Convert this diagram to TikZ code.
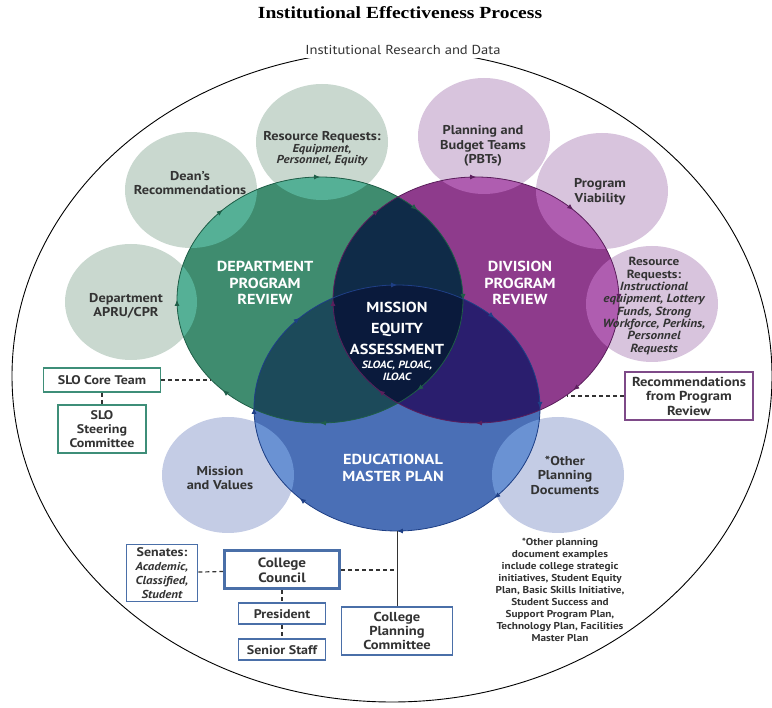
\documentclass[tikz,border=0pt]{standalone}
\usepackage{fontspec}
\setmainfont{PT Sans}[FakeStretch=1.12]
\newfontfamily\titlefont{Liberation Serif}[FakeStretch=1.15]
\usetikzlibrary{arrows.meta,positioning,decorations.markings}
\definecolor{dprgreen}{HTML}{3F8C6F}
\definecolor{dprlight}{HTML}{55B096}
\definecolor{dprline}{HTML}{1F5E48}
\definecolor{dvpurple}{HTML}{8E3B8C}
\definecolor{dvlight}{HTML}{AF5DB0}
\definecolor{dvline}{HTML}{5B1F5C}
\definecolor{empblue}{HTML}{4A6FB6}
\definecolor{emplight}{HTML}{6A92D3}
\definecolor{empline}{HTML}{1E3F85}
\definecolor{gpnavy}{HTML}{0F2B48}
\definecolor{gbteal}{HTML}{1C4A5A}
\definecolor{pbindigo}{HTML}{2A1E6E}
\definecolor{coredark}{HTML}{0A1A3C}
\definecolor{bubgreen}{HTML}{C9D8CF}
\definecolor{bubpurple}{HTML}{D8C4DD}
\definecolor{bubblue}{HTML}{C4CCE5}
\definecolor{boxgreen}{HTML}{3E8E78}
\definecolor{boxpurple}{HTML}{7E4A88}
\definecolor{boxblue}{HTML}{4A6FA8}
\definecolor{inkgrey}{HTML}{333333}
\newcommand{\dprshape}{(320,300) ellipse [x radius=143, y radius=123]}
\newcommand{\dvpshape}{(476,300) ellipse [x radius=143, y radius=123]}
\newcommand{\empshape}{(397,408) ellipse [x radius=143, y radius=123]}

\tikzset{
  bubtext/.style={align=center,text=inkgrey,font=\bfseries\fontsize{12.8}{14.5}\selectfont},
  bigtext/.style={align=center,text=white,font=\bfseries\fontsize{14.5}{16.5}\selectfont},
  flow/.style={postaction={decorate,decoration={markings,
      mark=between positions 0 and 0.99 step 0.125 with {\arrow[#1]{Latex[length=6pt,width=5pt]}}}}},
  orgbox/.style={draw=#1,line width=1.8pt,fill=white,align=center,inner sep=2pt,
      text=inkgrey,font=\bfseries\fontsize{12.5}{14}\selectfont},
  link/.style={inkgrey,line width=1.2pt,dash pattern=on 4pt off 3pt}
}

\begin{document}
\begin{tikzpicture}[x=1pt,y=-1pt]
\useasboundingbox (0,0) rectangle (772,708);
\node[font=\titlefont\bfseries\fontsize{17}{20}\selectfont] (title) at (400,13) {Institutional Effectiveness Process};
%outer loop
\draw[line width=.9pt] (392,376) ellipse [x radius=380, y radius=326];
\node[fill=white,inner xsep=12pt,inner ysep=3pt,text=inkgrey,font=\fontsize{13}{15}\selectfont] (irdata) at (403,50) {Institutional Research and Data};
%satellite bubbles
\foreach \bx/\by/\bc in {191/190/bubgreen,322/142/bubgreen,131/302/bubgreen,484/136/bubpurple,
    602/191/bubpurple,652/304/bubpurple,228/475/bubblue,558/475/bubblue}
  \fill[\bc] (\bx,\by) ellipse [x radius=66, y radius=58];
%the three big circles
\fill[dprgreen] \dprshape;
\fill[dvpurple] \dvpshape;
\fill[empblue] \empshape;
\begin{scope}
\clip \dprshape;
\fill[gpnavy] \dvpshape;
\fill[gbteal] \empshape;
\end{scope}
\begin{scope}
\clip \dvpshape;
\fill[pbindigo] \empshape;
\end{scope}
\begin{scope}
\clip \dprshape;
\clip \dvpshape;
\fill[coredark] \empshape;
\end{scope}
%bubble over circle
\foreach \bx/\by in {191/190,322/142,131/302,484/136,602/191,652/304,228/475,558/475}{
  \begin{scope}
  \clip (\bx,\by) ellipse [x radius=66, y radius=58];
  \fill[dprlight] \dprshape;
  \fill[dvlight] \dvpshape;
  \fill[emplight] \empshape;
  \end{scope}
}
\draw[dprline,line width=.8pt,flow=dprline] \dprshape;
\draw[dvline,line width=.8pt,flow=dvline] \dvpshape;
\draw[empline,line width=.8pt,flow=empline] \empshape;
%circle labels
\node[bigtext] (dprtext) at (265,283) {DEPARTMENT\\PROGRAM\\REVIEW};
\node[bigtext] (dvptext) at (520,283) {DIVISION\\PROGRAM\\REVIEW};
\node[bigtext] (emptext) at (393,468) {EDUCATIONAL\\MASTER PLAN};
\node[align=center,text=white,font=\bfseries\fontsize{14.5}{21}\selectfont] (coretext) at (397,341)
  {MISSION\\EQUITY\\ASSESSMENT\\[-7pt]{\itshape\fontsize{10.5}{12}\selectfont SLOAC, PLOAC,}\\[-9pt]{\itshape\fontsize{10.5}{12}\selectfont ILOAC}};
%bubble labels
\node[bubtext] (deans) at (190,183) {Dean's\\Recommendations};
\node[bubtext] (resreqA) at (322,149) {Resource Requests:\\[-3pt]{\itshape\fontsize{11.5}{12}\selectfont Equipment,}\\[-3pt]{\itshape\fontsize{11.5}{12}\selectfont Personnel, Equity}};
\node[bubtext] (pbt) at (483,146) {Planning and\\Budget Teams\\(PBTs)};
\node[bubtext] (viability) at (600,192) {Program\\Viability};
\node[bubtext,font=\bfseries\fontsize{11.8}{12.3}\selectfont] (resreqB) at (654,306) {Resource\\Requests:\\\itshape Instructional\\\itshape equipment, Lottery\\\itshape Funds, Strong\\\itshape Workforce, Perkins,\\\itshape Personnel\\\itshape Requests};
\node[bubtext] (apru) at (126,306) {Department\\APRU/CPR};
\node[bubtext] (mission) at (220,478) {Mission\\and Values};
\node[bubtext] (otherdocs) at (565,475) {*Other\\Planning\\Documents};
\node[align=center,text=inkgrey,font=\bfseries\fontsize{10}{11.9}\selectfont] (fnote) at (560,590)
  {*Other planning\\document examples\\include college strategic\\initiatives, Student Equity\\Plan, Basic Skills Initiative,\\Student Success and\\Support Program Plan,\\Technology Plan, Facilities\\Master Plan};
%boxes
\node[orgbox=boxgreen,minimum width=117pt,minimum height=24pt] (slocore) at (102,380) {SLO Core Team};
\node[orgbox=boxgreen,minimum width=88pt,minimum height=48pt] (slosteer) at (102,429) {SLO\\Steering\\Committee};
\node[orgbox=boxpurple,minimum width=128pt,minimum height=48pt,font=\bfseries\fontsize{13}{14.5}\selectfont] (recbox) at (689,396) {Recommendations\\from Program\\Review};
\node[orgbox=boxblue,minimum width=71pt,minimum height=57pt] (senates) at (162,573) {Senates:\\{\itshape\fontsize{11.5}{13}\selectfont Academic,}\\{\itshape\fontsize{11.5}{13}\selectfont Classified,}\\{\itshape\fontsize{11.5}{13}\selectfont Student}};
\node[orgbox=boxblue,line width=3pt,minimum width=115pt,minimum height=38pt,font=\bfseries\fontsize{13.5}{15}\selectfont] (council) at (282,570) {College\\Council};
\node[orgbox=boxblue,minimum width=87pt,minimum height=21pt,below=12pt of council] (president) {President};
\node[orgbox=boxblue,minimum width=87pt,minimum height=21pt,below=13pt of president] (seniorstaff) {Senior Staff};
\node[orgbox=boxblue,minimum width=111pt,minimum height=48pt,font=\bfseries\fontsize{13}{14}\selectfont] (cpc) at (397,631) {College\\Planning\\Committee};
%connectors
\coordinate (dprW) at (211,380);
\coordinate (dvpE) at (567,396);
\coordinate (empS) at (397,531);
\draw[link] (slocore.east) -- (dprW);
\draw[link] (slocore) -- (slosteer);
\draw[link] (recbox.west) -- (dvpE);
\draw[link] (senates) -- (council);
\draw[link] (council.east) -- (council.east -| cpc.north);
\draw[link] (council) -- (president);
\draw[link] (president) -- (seniorstaff);
\draw[inkgrey,line width=.8pt] (cpc) -- (empS);
\end{tikzpicture}
\end{document}
